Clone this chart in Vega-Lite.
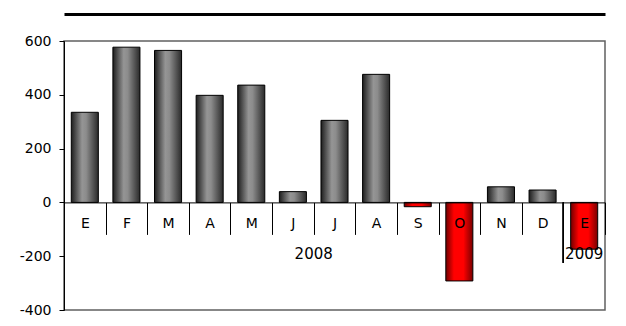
{
  "$schema": "https://vega.github.io/schema/vega-lite/v6.json",
  "width": 541,
  "height": 269,
  "autosize": {"type": "none"},
  "padding": {"left": 64, "top": 41, "right": 21, "bottom": 16},
  "background": "white",
  "config": {"font": "DejaVu Sans", "view": {"stroke": "#606060", "strokeWidth": 1.5}},
  "data": {"values": [
    {"mes": 1, "year": "2008", "v": 335},
    {"mes": 2, "year": "2008", "v": 577},
    {"mes": 3, "year": "2008", "v": 565},
    {"mes": 4, "year": "2008", "v": 398},
    {"mes": 5, "year": "2008", "v": 436},
    {"mes": 6, "year": "2008", "v": 40},
    {"mes": 7, "year": "2008", "v": 305},
    {"mes": 8, "year": "2008", "v": 476},
    {"mes": 9, "year": "2008", "v": -16},
    {"mes": 10, "year": "2008", "v": -292},
    {"mes": 11, "year": "2008", "v": 58},
    {"mes": 12, "year": "2008", "v": 46},
    {"mes": 13, "year": "2009", "v": -174}
  ]},
  "layer": [
    {
      "encoding": {
        "x": {
          "field": "mes", "type": "ordinal",
          "scale": {"paddingInner": 0, "paddingOuter": 0},
          "axis": {
            "title": null, "labelAngle": 0,
            "labelExpr": "['E','F','M','A','M','J','J','A','S','O','N','D','E'][datum.value-1]",
            "tickBand": "extent", "tickSize": 32, "tickColor": "black", "tickWidth": 1,
            "domainColor": "black", "domainWidth": 1,
            "labelColor": "black", "labelFontSize": 14, "labelBaseline": "middle", "labelPadding": -11,
            "offset": -107.6, "zindex": 1
          }
        },
        "y": {
          "field": "v", "type": "quantitative",
          "scale": {"domain": [-400, 600]},
          "axis": {
            "values": [-400, -200, 0, 200, 400, 600], "grid": false, "title": null,
            "labelExpr": "'' + datum.value",
            "domainColor": "black", "tickColor": "black", "labelColor": "black",
            "labelFontSize": 14, "tickSize": 5, "labelPadding": 8
          }
        }
      },
      "layer": [
        {
          "transform": [{"filter": "datum.v >= 0"}],
          "mark": {
            "type": "bar", "stroke": "black", "strokeWidth": 1, "width": {"band": 0.65},
            "fill": {"gradient": "linear", "x1": 0, "x2": 1, "y1": 0, "y2": 0, "stops": [
              {"offset": 0, "color": "#1e1e1e"},
              {"offset": 0.4, "color": "#959595"},
              {"offset": 0.55, "color": "#8c8c8c"},
              {"offset": 1, "color": "#2a2a2a"}
            ]}
          }
        },
        {
          "transform": [{"filter": "datum.v < 0"}],
          "mark": {
            "type": "bar", "stroke": "black", "strokeWidth": 1, "width": {"band": 0.65},
            "fill": {"gradient": "linear", "x1": 0, "x2": 1, "y1": 0, "y2": 0, "stops": [
              {"offset": 0, "color": "#700000"},
              {"offset": 0.3, "color": "#ff0000"},
              {"offset": 0.65, "color": "#ff0000"},
              {"offset": 1, "color": "#780000"}
            ]}
          }
        }
      ]
    },
    {
      "layer": [
        {
          "mark": {"type": "text", "fontSize": 15, "baseline": "middle", "color": "black"},
          "encoding": {
            "x": {
              "aggregate": "mean", "field": "mes", "type": "quantitative",
              "scale": {"domain": [0.5, 13.5], "zero": false, "nice": false},
              "axis": {"orient": "top", "offset": 27, "domainWidth": 3, "domainColor": "black",
                       "labels": false, "ticks": false, "title": null, "grid": false}
            },
            "y": {"datum": -192, "type": "quantitative"},
            "text": {"field": "year"}
          }
        },
        {
          "mark": {"type": "rule", "color": "black", "strokeWidth": 1},
          "encoding": {
            "x": {"datum": 12.5, "type": "quantitative"},
            "y": {"datum": 0, "type": "quantitative"},
            "y2": {"datum": -225}
          }
        }
      ]
    }
  ],
  "resolve": {"scale": {"x": "independent"}, "axis": {"x": "independent"}}
}
